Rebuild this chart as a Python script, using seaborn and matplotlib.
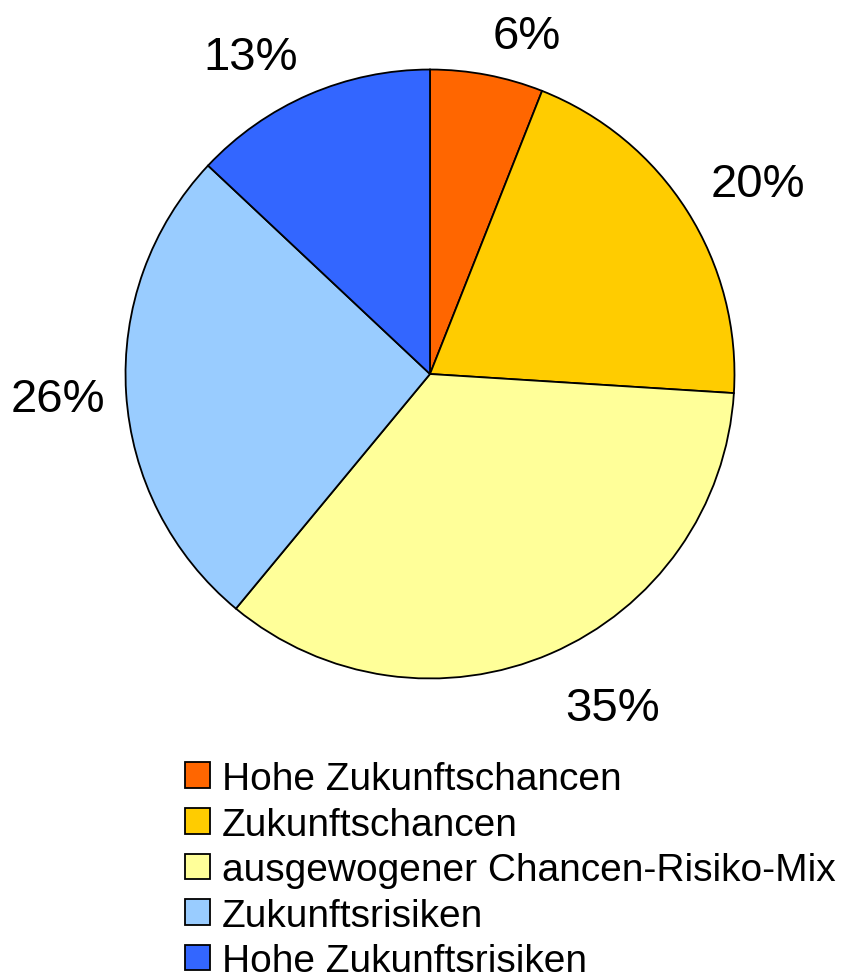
import matplotlib
matplotlib.use("Agg")
import numpy as np
import matplotlib.pyplot as plt
import seaborn as sns

categories = [
    "Hohe Zukunftschancen",
    "Zukunftschancen",
    "ausgewogener Chancen-Risiko-Mix",
    "Zukunftsrisiken",
    "Hohe Zukunftsrisiken",
]
shares = [6, 20, 35, 26, 13]
colors = ["#FF6600", "#FFCC00", "#FFFF99", "#99CCFF", "#3366FF"]

sns.set_theme(style="white")
plt.rcParams["font.family"] = ["Liberation Sans", "DejaVu Sans"]

fig = plt.figure(figsize=(8.5, 9.79), dpi=100)
ax = fig.add_axes([124 / 850, 1 - 681 / 979, 612 / 850, 612 / 979])

wedges, _ = ax.pie(
    shares,
    colors=colors,
    startangle=90,
    counterclock=False,
    wedgeprops=dict(edgecolor="black", linewidth=1.3),
)

# Excel-style labels: a corner of the text box sits just outside the slice middle
for w, v in zip(wedges, shares):
    ang = np.deg2rad((w.theta1 + w.theta2) / 2)
    x, y = np.cos(ang), np.sin(ang)
    ha = "left" if x > 0.1 else ("right" if x < -0.1 else "center")
    if y > 0.1:
        va, d = "baseline", 1.09
    elif y < -0.1:
        va, d = "top", 1.115
    else:
        va, d = "center_baseline", 1.07
    ax.text(d * x, d * y, f"{v}%", ha=ha, va=va, fontsize=34, color="black")

ax.set_xlim(-1.005, 1.005)
ax.set_ylim(-1.005, 1.005)
ax.set_aspect("equal")
ax.axis("off")

leg = fig.legend(
    wedges,
    categories,
    loc="upper left",
    bbox_to_anchor=(185 / 850, 1 - 762 / 979),
    frameon=False,
    fontsize=28,
    handlelength=0.64,
    handleheight=0.64,
    handletextpad=0.3,
    labelspacing=0.245,
    borderpad=0,
    borderaxespad=0,
)
for t in leg.get_texts():
    t.set_color("black")

fig.savefig("out.png", dpi=100)
